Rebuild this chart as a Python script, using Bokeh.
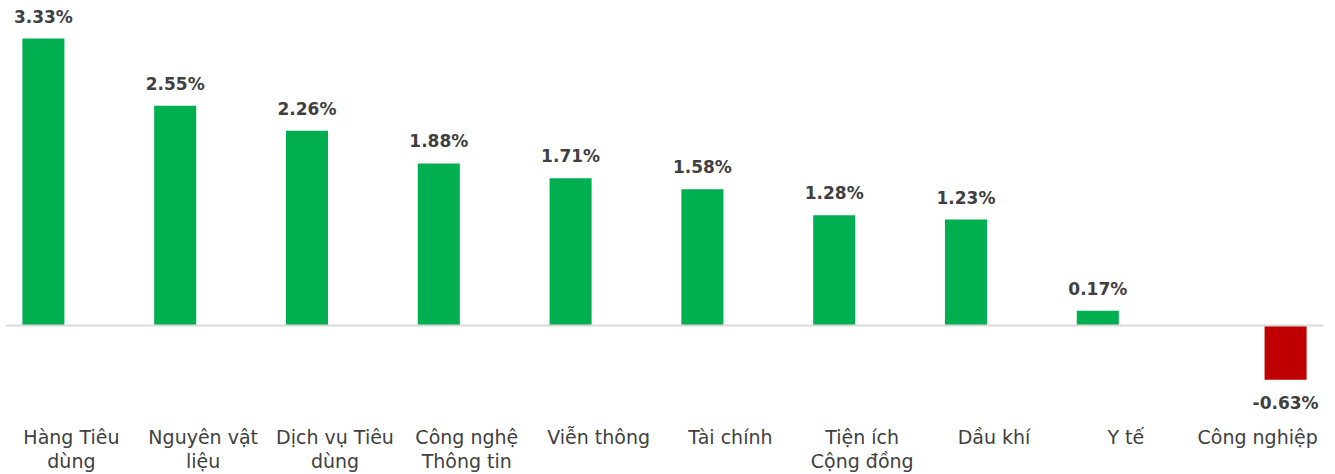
from bokeh.plotting import figure
from bokeh.models import ColumnDataSource, FactorRange, Range1d, Span
from bokeh.transform import dodge
from bokeh.core.properties import value
from bokeh.embed import file_html
from bokeh.resources import INLINE

categories = ["Hàng Tiêu dùng", "Nguyên vật liệu", "Dịch vụ Tiêu dùng", "Công nghệ Thông tin",
              "Viễn thông", "Tài chính", "Tiện ích Cộng đồng", "Dầu khí", "Y tế", "Công nghiệp"]
tick_labels = ["Hàng Tiêu\ndùng", "Nguyên vật\nliệu", "Dịch vụ Tiêu\ndùng", "Công nghệ\nThông tin",
               "Viễn thông", "Tài chính", "Tiện ích\nCộng đồng", "Dầu khí", "Y tế", "Công nghiệp"]
values = [3.33, 2.55, 2.26, 1.88, 1.71, 1.58, 1.28, 1.23, 0.17, -0.63]

GREEN = "#00B050"
RED = "#C00000"
TEXT = "#404040"

pos = [(c, v) for c, v in zip(categories, values) if v >= 0]
neg = [(c, v) for c, v in zip(categories, values) if v < 0]

pos_src = ColumnDataSource(dict(cat=[c for c, _ in pos], val=[v for _, v in pos],
                                lab=[f"{v:.2f}%" for _, v in pos]))
neg_src = ColumnDataSource(dict(cat=[c for c, _ in neg], val=[v for _, v in neg],
                                lab=[f"{v:.2f}%" for _, v in neg]))
cat_src = ColumnDataSource(dict(cat=categories, lab=tick_labels, zero=[0] * len(categories)))

p = figure(width=1335, height=474, x_range=FactorRange(*categories, range_padding=0),
           y_range=Range1d(-1.7285, 3.771), output_backend="svg", toolbar_location=None,
           x_axis_location=None, y_axis_location=None,
           min_border_left=5, min_border_right=12, min_border_top=0, min_border_bottom=0)
p.outline_line_color = None
p.grid.visible = False
p.background_fill_color = "white"
p.border_fill_color = "white"

off = 0.2125
bw = 0.319

p.vbar(x=dodge("cat", -off, range=p.x_range), top="val", bottom=0, width=bw,
       source=pos_src, fill_color=GREEN, line_color=None)
p.vbar(x=dodge("cat", off, range=p.x_range), top="val", bottom=0, width=bw,
       source=neg_src, fill_color=RED, line_color=None)

p.add_layout(Span(location=0, dimension="width", line_color="#D9D9D9", line_width=2))

p.text(x=dodge("cat", -off, range=p.x_range), y="val", text="lab", source=pos_src,
       text_font=value("DejaVu Sans"), text_font_style="bold", text_font_size="17px",
       text_color=TEXT, text_align="center", text_baseline="alphabetic", y_offset=-22)
p.text(x=dodge("cat", off, range=p.x_range), y="val", text="lab", source=neg_src,
       text_font=value("DejaVu Sans"), text_font_style="bold", text_font_size="17px",
       text_color=TEXT, text_align="center", text_baseline="alphabetic", y_offset=23)

p.text(x="cat", y="zero", text="lab", source=cat_src,
       text_font=value("DejaVu Sans"), text_font_size="19px", text_color=TEXT,
       text_align="center", text_baseline="top", text_line_height=1.1, y_offset=100)

open("out.html", "w").write(file_html(p, INLINE))
